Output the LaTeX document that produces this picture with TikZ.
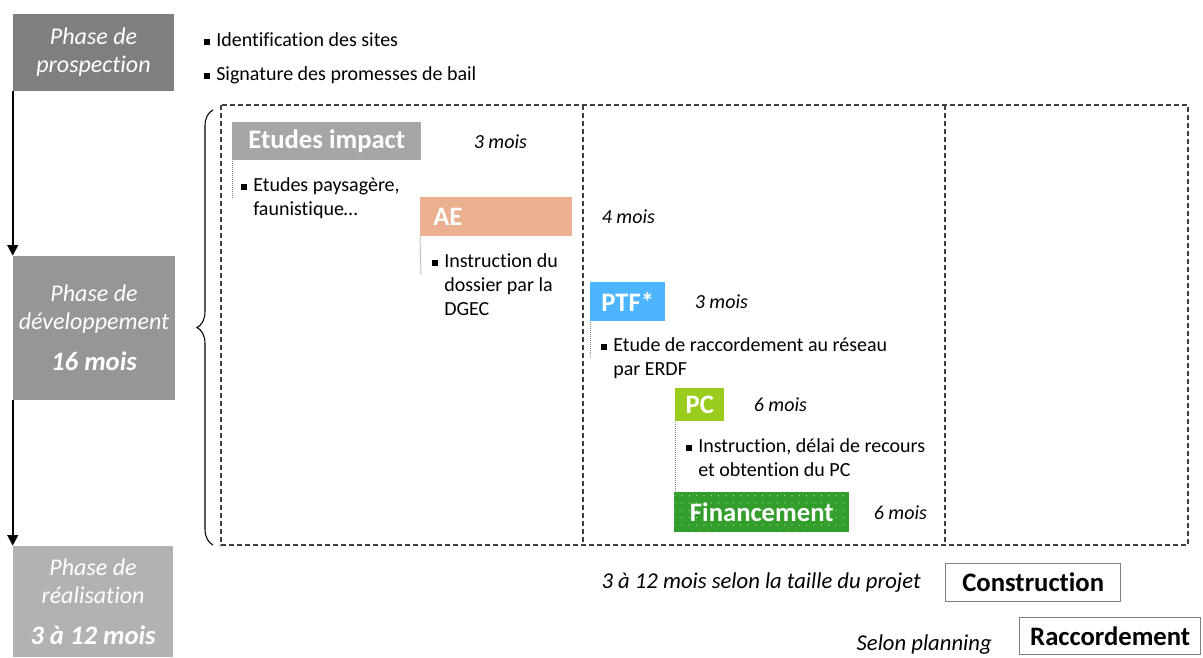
\documentclass[tikz,border=0pt]{standalone}
\usepackage{fontspec}
\setmainfont{Carlito}[Ligatures=NoCommon]
\usepackage{xcolor}
\usetikzlibrary{arrows.meta, positioning, decorations.pathreplacing, patterns.meta}

\definecolor{prospgris}{HTML}{7F7F7F}
\definecolor{devgris}{HTML}{969696}
\definecolor{realgris}{HTML}{B2B2B2}
\definecolor{etudegris}{HTML}{A6A6A6}
\definecolor{aesaumon}{HTML}{EAB08F}
\definecolor{ptfbleu}{HTML}{4DB5FF}
\definecolor{pcvert}{HTML}{99CC1C}
\definecolor{finvert}{HTML}{349E2C}
\definecolor{traitgris}{HTML}{404040}

\newcommand{\puce}{\strut\makebox[9pt][l]{\rule[1.4pt]{4.4pt}{4.4pt}}}
\newcommand{\suite}{\hspace*{9pt}}

\begin{document}
\begin{tikzpicture}[x=0.75pt, y=-0.75pt,
  phase/.style={fill=#1, text=white, align=center, inner sep=0pt,
                font=\fontsize{18}{21}\selectfont\itshape},
  tache/.style={anchor=north west, fill=#1, text=white, inner sep=0pt,
                font=\fontsize{20}{24}\selectfont\bfseries},
  duree/.style={inner sep=0pt, font=\fontsize{15}{18}\selectfont\itshape},
  puces/.style={anchor=north west, inner sep=0pt, align=left,
                font=\fontsize{15}{18}\selectfont},
  jalon/.style={anchor=north west, draw=gray, line width=1.1pt, inner sep=0pt,
                font=\fontsize{20}{24}\selectfont\bfseries},
  pointille/.style={gray, line width=0.75pt, dash pattern=on 0.75pt off 0.75pt},
  cadre/.style={traitgris, line width=0.9pt, dash pattern=on 3.5pt off 2.5pt},
  fleche/.style={-{Triangle[length=8pt,width=8pt]}, line width=1.4pt}]
  \useasboundingbox (0,0) rectangle (1203,657);

  % phases
  \node[phase=prospgris, minimum width=120.75pt, minimum height=57.75pt] (prosp)
    at (93.5,52.5) {Phase de\\prospection};
  \node[phase=devgris, minimum width=121.5pt, minimum height=108pt] (dev)
    at (94,328) {Phase de\\développement\\[10pt]{\fontsize{20}{24}\selectfont\bfseries 16 mois}};
  \node[phase=realgris, minimum width=120pt, minimum height=83.25pt] (real)
    at (93,601.5) {Phase de\\réalisation\\[10pt]{\fontsize{20}{24}\selectfont\bfseries 3 à 12 mois}};
  \draw[fleche] (prosp.south west) -- (dev.north west);
  \draw[fleche] (dev.south west) -- (real.north west);

  \node[puces] (sites) at (204,29.6) {\puce Identification des sites};
  \node[puces] (bail) at (204,63.6) {\puce Signature des promesses de bail};

  % developpement
  \draw[cadre] (221,105) rectangle (1188,545);
  \draw[cadre] (583,105) -- (583,545);
  \draw[cadre] (945,105) -- (945,545);
  \draw[decorate, decoration={brace, amplitude=12pt}, line width=0.8pt]
    (213,545) -- (213,110);

  \node[tache=etudegris, minimum width=141.75pt, minimum height=28.5pt] (etudes)
    at (232,122) {Etudes impact};
  \node[duree, right=39pt of etudes] (d-etudes) {3 mois};
  \node[puces] (p-etudes) at (241,174.6) {\puce Etudes paysagère,\\\suite faunistique…};

  \node[tache=aesaumon, minimum height=29.25pt, text width=94.5pt, align=left,
        inner xsep=9.75pt] (ae) at (420,197) {AE};
  \node[duree, right=21.75pt of ae] (d-ae) {4 mois};
  \node[puces] (p-ae) at (432,250.6) {\puce Instruction du\\\suite dossier par la\\\suite DGEC};
  \coordinate (ae-fin) at (421,275);

  \node[tache=ptfbleu, minimum width=56.25pt, minimum height=29.25pt] (ptf)
    at (590,282) {PTF*};
  \node[duree, right=21.75pt of ptf] (d-ptf) {3 mois};
  \node[puces] (p-ptf) at (601,334.6) {\puce Etude de raccordement au réseau\\\suite par ERDF};
  \coordinate (ptf-fin) at (590,357);

  \node[tache=pcvert, minimum width=36.75pt, minimum height=24.75pt] (pc)
    at (675,388) {PC};
  \node[duree, right=21.75pt of pc] (d-pc) {6 mois};
  \node[puces] (p-pc) at (686,435.6) {\puce Instruction, délai de recours\\\suite et obtention du PC};

  \node[tache=finvert, minimum width=131.25pt, minimum height=30pt,
        preaction={fill=finvert}, pattern={Dots[radius=0.45pt, distance=5.5pt]},
        pattern color=white!65!finvert] (fin) at (674,492) {Financement};
  \node[duree, right=18pt of fin] (d-fin) {6 mois};

  \draw[pointille] (etudes.south west) -- (etudes.south west |- ae.north);
  \draw[pointille] (ae.south west) -- (ae-fin);
  \draw[pointille] (ptf.south west) -- (ptf-fin);
  \draw[pointille] (pc.south west) -- (pc.south west |- fin.north);

  % realisation
  \node[jalon, minimum width=131.25pt, minimum height=28.5pt] (constr)
    at (945,563) {Construction};
  \node[duree, font=\fontsize{17}{20}\selectfont\itshape, left=18pt of constr] (d-constr)
    {3 à 12 mois selon la taille du projet};
  \node[jalon, minimum width=135.75pt, minimum height=27.75pt] (racc)
    at (1019,617) {Raccordement};
  \node[duree, font=\fontsize{17}{20}\selectfont\itshape, anchor=east] (d-racc)
    at (992,645) {Selon planning};
\end{tikzpicture}
\end{document}
